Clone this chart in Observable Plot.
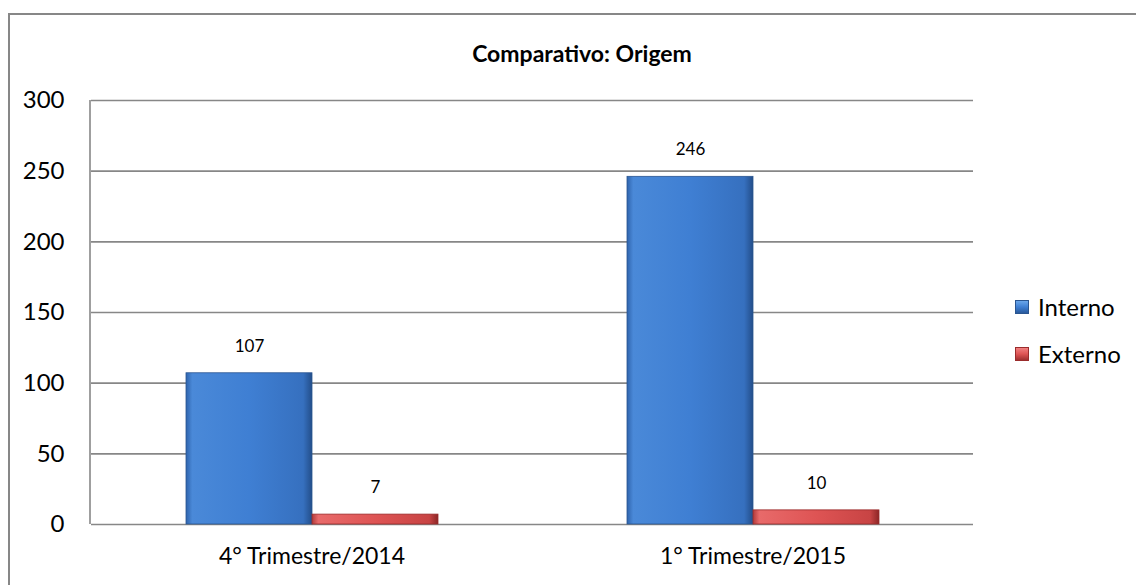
<!DOCTYPE html>
<html>
<head>
<meta charset="utf-8">
<script src="https://cdn.jsdelivr.net/npm/d3@7"></script>
<script src="https://cdn.jsdelivr.net/npm/@observablehq/plot@0.6"></script>
<style>
  html, body { margin: 0; padding: 0; background: #fff; }
  #wrap { position: relative; width: 1136px; height: 585px; overflow: hidden; font-family: Lato, "Open Sans", sans-serif; }
  #border { position: absolute; left: 8px; top: 13px; width: 1200px; height: 700px; border: 2px solid #878787; box-sizing: border-box; }
  #title { position: absolute; left: 0; width: 1164px; top: 38px; text-align: center; font-weight: bold; font-size: 23px; line-height: 30px; color: #000; }
  .leg { position: absolute; left: 1015px; font-size: 24px; line-height: 30px; color: #000; display: flex; align-items: center; }
  .sw { width: 14px; height: 14px; margin-right: 9px; box-sizing: border-box; }
  #chart { position: absolute; left: 0; top: 0; }
</style>
</head>
<body>
<div id="wrap">
  <div id="border"></div>
  <div id="chart"></div>
  <div id="title"></div>
  <div id="legend"></div>
</div>
<script>
const periods = ["4° Trimestre/2014", "1° Trimestre/2015"];
const series = ["Interno", "Externo"];
const interno = [107, 246];
const externo = [7, 10];
const yTicks = [0, 50, 100, 150, 200, 250, 300];
const chartTitle = "Comparativo: Origem";

const data = [];
periods.forEach((p, i) => {
  data.push({period: p, series: "Interno", value: interno[i]});
  data.push({period: p, series: "Externo", value: externo[i]});
});

const seriesFill = {Interno: "url(#gInt)", Externo: "url(#gExt)"};
const seriesStroke = {Interno: "#2a5590", Externo: "#9a2c2c"};

const plot = Plot.plot({
  width: 1136,
  height: 585,
  marginTop: 100,
  marginBottom: 61,
  marginLeft: 90,
  marginRight: 163,
  style: {fontFamily: "Lato, 'Open Sans', sans-serif", background: "transparent", overflow: "visible"},
  fx: {domain: periods, padding: 0},
  x: {domain: series, paddingInner: 0, paddingOuter: 0.74, axis: null},
  y: {domain: [0, 300]},
  marks: [
    Plot.ruleY(yTicks, {stroke: "#878787", strokeWidth: 1.6, strokeOpacity: 1}),
    Plot.axisY({ticks: yTicks, tickSize: 0, tickPadding: 27, fontSize: 24, label: null, fill: "#000"}),
    Plot.axisFx({anchor: "bottom", tickSize: 0, tickPadding: 23, fontSize: 23, label: null, fill: "#000"}),
    ...series.map(s => Plot.barY(data.filter(d => d.series === s), {
      fx: "period", x: "series", y: "value",
      fill: seriesFill[s], stroke: seriesStroke[s], strokeWidth: 0.8
    })),
    Plot.text(data, {fx: "period", x: "series", y: "value", text: d => String(d.value), dy: -27, fontSize: 17, fill: "#000"})
  ]
});

// Gradients
const svg = d3.select(plot);
const defs = svg.insert("defs", ":first-child");
function grad(id, stops) {
  const g = defs.append("linearGradient").attr("id", id).attr("x1", "0").attr("x2", "1").attr("y1", "0").attr("y2", "0");
  stops.forEach(([o, c]) => g.append("stop").attr("offset", o).attr("stop-color", c));
}
grad("gInt", [["0", "#2f64ad"], ["0.05", "#4a89d8"], ["0.5", "#3f7fd3"], ["0.93", "#3670bf"], ["1", "#234e8a"]]);
grad("gExt", [["0", "#b13a3a"], ["0.05", "#e86a6a"], ["0.5", "#de5454"], ["0.93", "#c84444"], ["1", "#8c2626"]]);

// left axis line
const yScale = plot.scale("y");
svg.append("line")
  .attr("x1", 90).attr("x2", 90)
  .attr("y1", yScale.apply(0)).attr("y2", yScale.apply(300))
  .attr("stroke", "#878787").attr("stroke-width", 1.6);

document.getElementById("chart").appendChild(plot);
document.getElementById("title").textContent = chartTitle;

const legend = document.getElementById("legend");
const legTop = {Interno: 292, Externo: 339};
series.forEach(s => {
  const div = document.createElement("div");
  div.className = "leg";
  div.style.top = legTop[s] + "px";
  const sw = document.createElement("div");
  sw.className = "sw";
  sw.style.background = s === "Interno" ? "linear-gradient(to bottom, #6aa6ea, #3f7fd3 50%, #2a5a9c)" : "linear-gradient(to bottom, #f08080, #de5454 50%, #a03030)";
  sw.style.border = "1px solid " + seriesStroke[s];
  const t = document.createElement("span");
  t.textContent = s;
  div.appendChild(sw);
  div.appendChild(t);
  legend.appendChild(div);
});
</script>
</body>
</html>
